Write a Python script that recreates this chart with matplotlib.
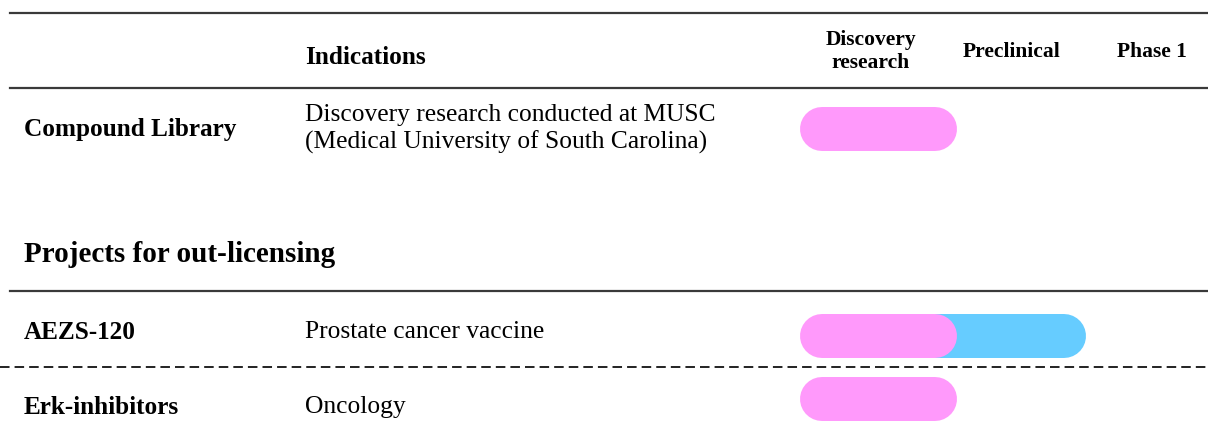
import matplotlib.pyplot as plt

plt.rcParams['font.family'] = ['Liberation Serif', 'DejaVu Serif']

# Pipeline table data
stages = ['Discovery\nresearch', 'Preclinical', 'Phase 1']
projects = ['Compound Library', 'AEZS-120', 'Erk-inhibitors']
indications = ['Discovery research conducted at MUSC\n(Medical University of South Carolina)',
               'Prostate cancer vaccine',
               'Oncology']
stages_reached = [1, 2, 1]
section_title = 'Projects for out-licensing'
stage_colors = ['#ff99fb', '#66ccff', '#66ccff']

# layout (pixel units)
W, H = 1208, 436
stage_centers = [871, 1012, 1152]
stage_edges = [800, 957, 1086, 1208]
row_y = [129, 336, 399]
text_y = [129, 332, 407]
bar_h = 44
x_name, x_ind = 24, 305

fig = plt.figure(figsize=(W / 100, H / 100), dpi=100)
ax = fig.add_axes([0, 0, 1, 1])
ax.set_xlim(0, W)
ax.set_ylim(H, 0)
ax.axis('off')

# rules
line_kw = dict(color='#3a3a3a', lw=1.6)
ax.plot([10, W], [13, 13], **line_kw)
ax.plot([10, W], [88, 88], **line_kw)
ax.plot([10, W], [291, 291], **line_kw)
ax.plot([0, W], [367, 367], color='#222222', lw=1.4, ls=(0, (4.9, 2.6)))

# headers
ax.text(x_ind, 57, 'Indications', fontsize=18.2, fontweight='bold', va='center')
for x, s in zip(stage_centers, stages):
    ax.text(x, 52, s, fontsize=15.5, fontweight='bold', ha='center', va='center',
            linespacing=1.2)

ax.text(x_name, 254, section_title, fontsize=21, fontweight='bold', va='center')

# rows
r = bar_h / 2
lw_pt = bar_h * 72 / 100
for y, ty, name, ind, n in zip(row_y, text_y, projects, indications, stages_reached):
    ax.text(x_name, ty, name, fontsize=18.2, fontweight='bold', va='center')
    ax.text(x_ind, ty, ind, fontsize=18.4, va='center', linespacing=1.2)
    # later stages first so earlier ones sit on top
    for k in range(n - 1, -1, -1):
        x0 = stage_edges[k] - (2 * r if k > 0 else 0)
        x1 = stage_edges[k + 1]
        ax.plot([x0 + r, x1 - r], [y, y], color=stage_colors[k], lw=lw_pt,
                solid_capstyle='round')

fig.savefig('out.png', dpi=100)
